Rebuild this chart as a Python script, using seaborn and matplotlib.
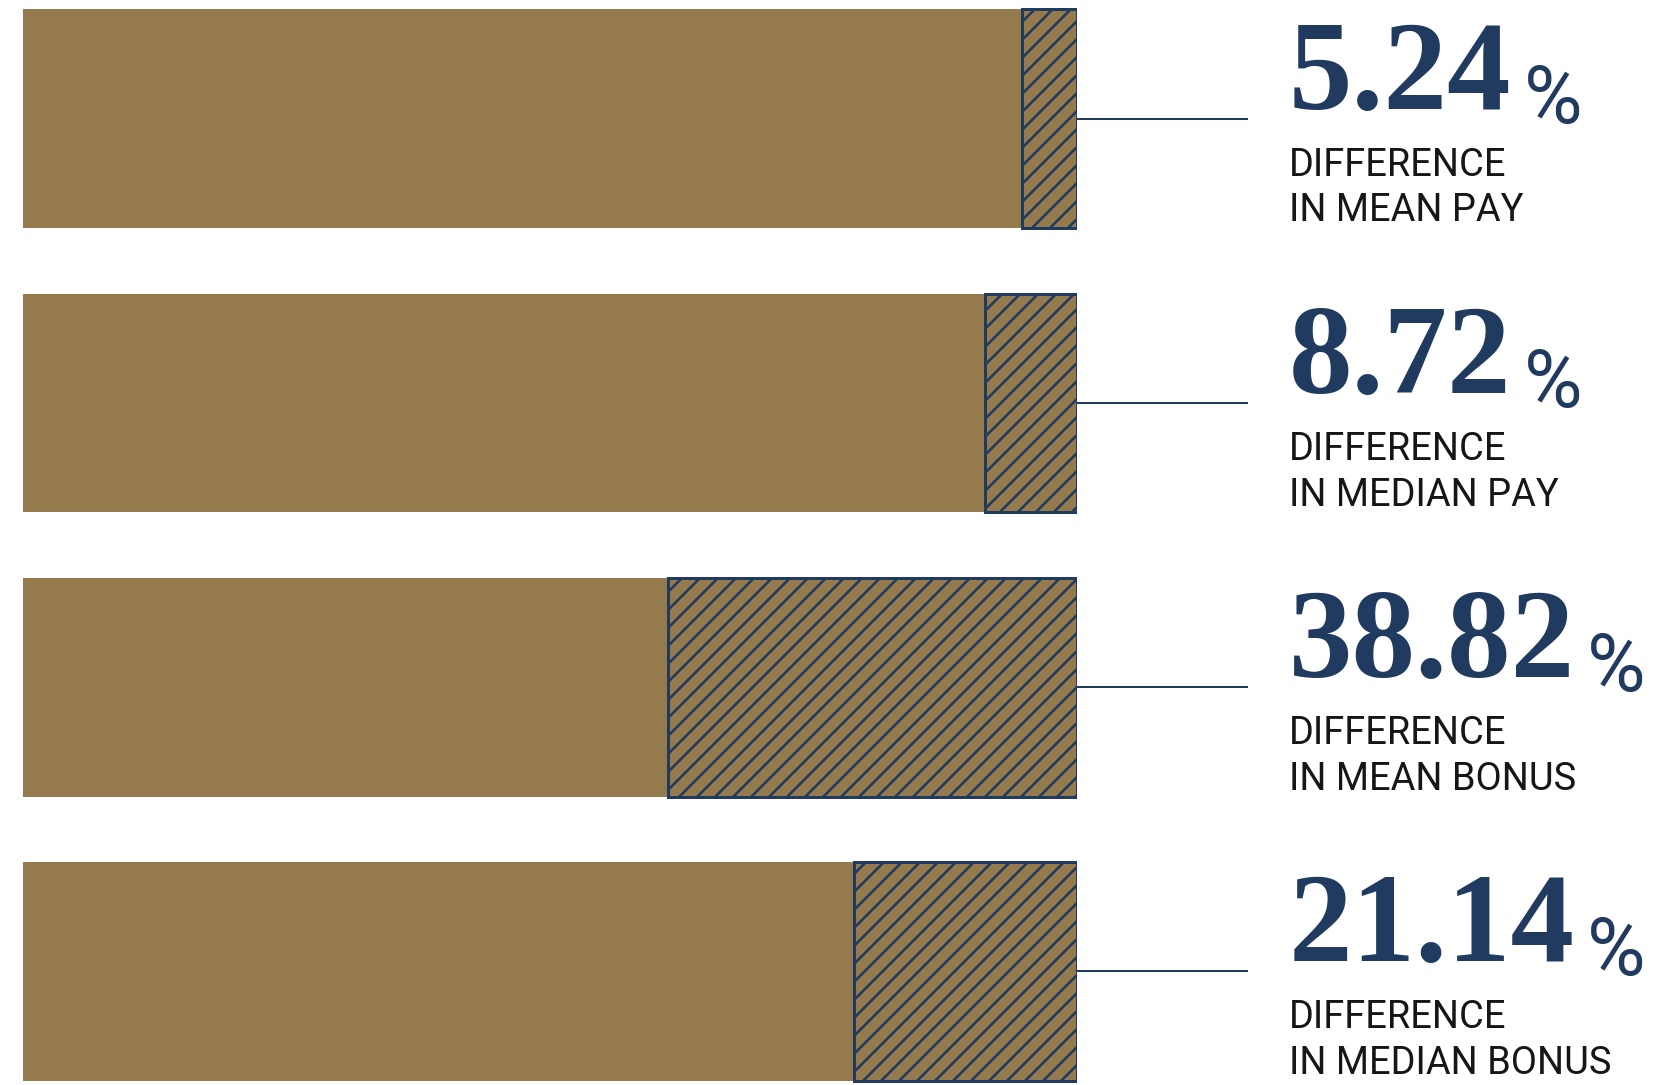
import matplotlib
matplotlib.use("Agg")
import matplotlib.pyplot as plt
import seaborn as sns
import pandas as pd

# Pay-gap figures: the hatched end of each bar is the gap in percent
metrics = ["Mean pay", "Median pay", "Mean bonus", "Median bonus"]
gap_pct = [5.24, 8.72, 38.82, 21.14]
captions = [
    "DIFFERENCE\nIN MEAN PAY",
    "DIFFERENCE\nIN MEDIAN PAY",
    "DIFFERENCE\nIN MEAN BONUS",
    "DIFFERENCE\nIN MEDIAN BONUS",
]

GOLD = "#957a4e"
NAVY = "#213a5f"
INK = "#161616"

sns.set_theme(style="white")
plt.rcParams["hatch.color"] = NAVY
plt.rcParams["hatch.linewidth"] = 1.7

W, H, DPI = 1654, 1085, 108
PT = DPI / 72.0  # pixels per point
BAR_LEFT_PX, BAR_RIGHT_PX = 23, 1077
LINE_END_PX = 1248
TEXT_X_PX = 1289

fig = plt.figure(figsize=(W / DPI, H / DPI), dpi=DPI)
fig.patch.set_facecolor("white")
ax = fig.add_axes([BAR_LEFT_PX / W, 0, (BAR_RIGHT_PX - BAR_LEFT_PX) / W, 1])

df = pd.DataFrame({"metric": metrics, "gap": gap_pct})
df["share"] = 100 - df["gap"]

# plain part of each bar
sns.barplot(data=df, x="share", y="metric", order=metrics, orient="h",
            color=GOLD, saturation=1, width=0.77, linewidth=0,
            errorbar=None, ax=ax)
# hatched gap segment at the right end
sns.barplot(data=df, x="gap", y="metric", order=metrics, orient="h",
            color=GOLD, saturation=1, width=0.77, errorbar=None,
            left=df["share"].to_numpy(), edgecolor=NAVY, linewidth=2.0,
            hatch="//", ax=ax)

ax.set_xlim(0, 100)
ax.set_ylim(3.40, -0.418)
ax.set_axis_off()

line_end = (LINE_END_PX - BAR_LEFT_PX) / (BAR_RIGHT_PX - BAR_LEFT_PX) * 100
number_texts = []
for i, (g, cap) in enumerate(zip(gap_pct, captions)):
    ax.plot([100, line_end], [i, i], color=NAVY, lw=2.0 / PT, clip_on=False,
            solid_capstyle="butt")
    t = ax.annotate(f"{g:.2f}", xy=(TEXT_X_PX, i),
                    xycoords=("figure pixels", "data"),
                    xytext=(0, 10), textcoords="offset pixels",
                    ha="left", va="baseline", fontsize=127 / PT,
                    fontfamily="Liberation Serif", fontweight="bold",
                    color=NAVY, annotation_clip=False)
    number_texts.append(t)
    ax.annotate(cap, xy=(TEXT_X_PX, i), xycoords=("figure pixels", "data"),
                xytext=(0, -28), textcoords="offset pixels",
                ha="left", va="top", fontsize=38 / PT, fontfamily="Roboto",
                color=INK, linespacing=1.3, annotation_clip=False)

fig.canvas.draw()
for i, t in enumerate(number_texts):
    bb = t.get_window_extent()
    ax.annotate("%", xy=(bb.x1 + 12, i), xycoords=("figure pixels", "data"),
                xytext=(0, -4), textcoords="offset pixels",
                ha="left", va="baseline", fontsize=80 / PT, fontfamily="Roboto",
                color=NAVY, annotation_clip=False)

fig.savefig("out.png", dpi=DPI, facecolor="white")
